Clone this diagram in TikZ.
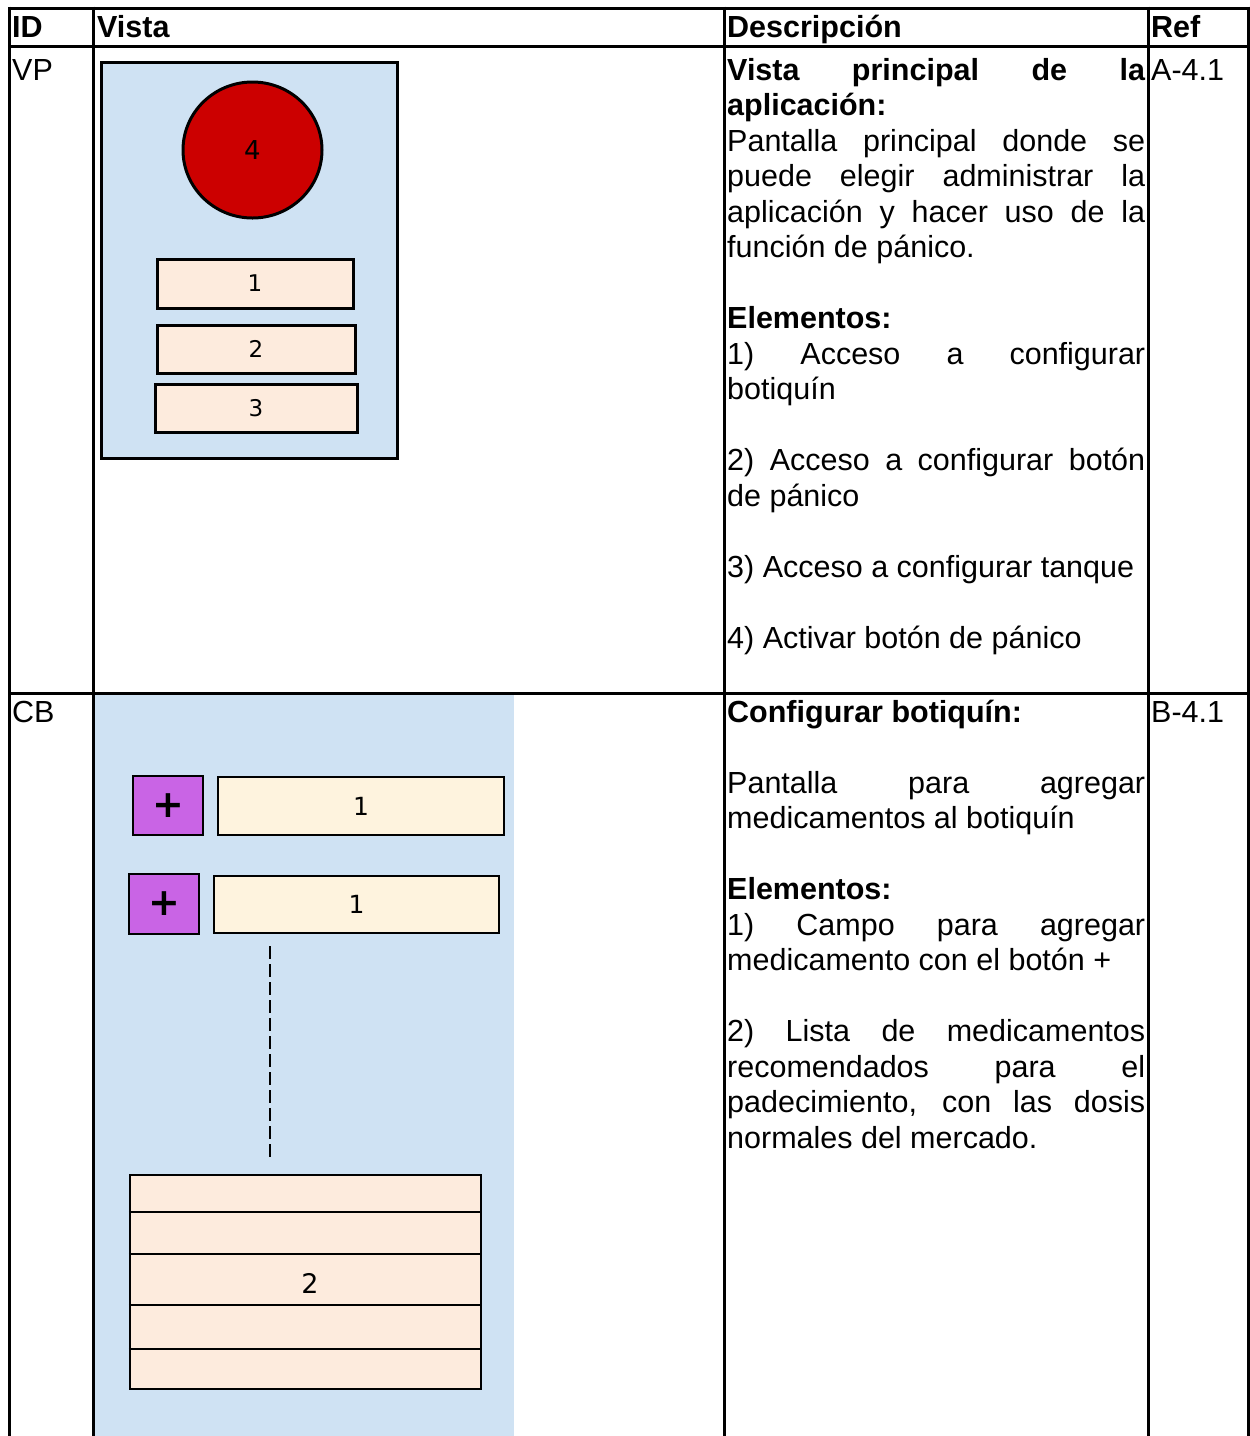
\documentclass[tikz,border=0pt]{standalone}
\usepackage{fontspec}
\setmainfont{Liberation Sans}
\newfontfamily\vfont{DejaVu Sans}
\usetikzlibrary{shapes.geometric}
\definecolor{scrblue}{HTML}{CFE2F3}
\definecolor{panicred}{HTML}{CC0000}
\definecolor{peach}{HTML}{FDEBDD}
\definecolor{cream}{HTML}{FEF3DE}
\definecolor{plusviolet}{HTML}{C964E5}
\newcommand{\jl}[1]{\makebox[418pt][s]{#1}}
\newcommand{\resetsp}{\spaceskip=0pt\xspaceskip=0pt\relax}
\begin{document}
\begin{tikzpicture}[x=1pt,y=-1pt,
  tline/.style={line width=3pt},
  body/.style={font=\fontsize{30.5}{35.5}\selectfont},
  celltxt/.style={body, anchor=base west, inner sep=0pt},
  desc/.style={body, anchor=north west, inner sep=0pt, text width=418pt, align=left},
  widget/.style={draw=black, line width=3pt, inner sep=0pt, font=\vfont\fontsize{23}{27}\selectfont},
  field/.style={widget, rectangle, fill=peach},
  cfield/.style={widget, rectangle, fill=cream, line width=2.5pt},
  plusbtn/.style={widget, rectangle, fill=plusviolet, line width=2.5pt, font=\vfont\bfseries\fontsize{38}{40}\selectfont},
  listbox/.style={draw=black, line width=2.2pt, fill=peach, inner sep=0pt, font=\vfont\fontsize{26}{30}\selectfont}
]
\useasboundingbox (0,0) rectangle (1250,1436);
\fill[white] (0,0) rectangle (1250,1436);

% ---------- VP screen mock-up ----------
\node[draw=black, line width=3pt, fill=scrblue, minimum width=296pt, minimum height=396pt, inner sep=0pt] (vpscreen) at (249,260) {};
\node[widget, ellipse, fill=panicred, minimum width=139pt, minimum height=136pt, font=\vfont\fontsize{26}{28}\selectfont] (panic) at (252.5,150) {4};
\node[field, minimum width=196pt, minimum height=49pt] (vpb1) at (255,283.5) {1};
\node[field, minimum width=198pt, minimum height=48pt] (vpb2) at (256,349) {2};
\node[field, minimum width=202pt, minimum height=48pt] (vpb3) at (256,408) {3};

% ---------- CB screen mock-up ----------
\fill[scrblue] (95,695) rectangle (514,1436);
\node[plusbtn, minimum width=70pt, minimum height=59pt] (plus1) at (168,805.5) {+};
\node[cfield, minimum width=286pt, minimum height=58pt, font=\vfont\fontsize{25}{28}\selectfont] (fld1) at (361,806) {1};
\node[plusbtn, minimum width=70pt, minimum height=60pt] (plus2) at (164,904) {+};
\node[cfield, minimum width=285pt, minimum height=57pt, font=\vfont\fontsize{25}{28}\selectfont] (fld2) at (356.5,904.5) {1};
\coordinate (dtop) at (270,946);
\coordinate (dbot) at (270,1160);
\draw[line width=2pt, dash pattern=on 13pt off 5pt] (dtop) -- (dbot);
\node[listbox, minimum width=351pt, minimum height=214pt] (medlist) at (305.5,1282) {};
\foreach \yy in {1212,1254,1305,1349}
  \draw[line width=2.2pt] (medlist.west |- 0,\yy) -- (medlist.east |- 0,\yy);
\node[inner sep=0pt, font=\vfont\fontsize{27}{30}\selectfont] (medlbl) at (310,1283) {2};

% ---------- table rules ----------
\draw[tline] (9,8) -- (1248,8);
\draw[tline] (9,46) -- (1248,46);
\draw[tline] (9,693) -- (1248,693);
\foreach \xx in {9,93,724,1148,1248}
  \draw[tline] (\xx,6.5) -- (\xx,1436);

% ---------- header ----------
\node[celltxt, font=\fontsize{30.5}{35.5}\selectfont\bfseries] (hid) at (12,37) {ID};
\node[celltxt, font=\fontsize{30.5}{35.5}\selectfont\bfseries] (hvista) at (97,37) {Vista};
\node[celltxt, font=\fontsize{30.5}{35.5}\selectfont\bfseries] (hdesc) at (727,37) {Descripción};
\node[celltxt, font=\fontsize{30.5}{35.5}\selectfont\bfseries] (href) at (1151,37) {Ref};

% ---------- row VP ----------
\node[celltxt] (idvp) at (12,80) {VP};
\node[celltxt] (refvp) at (1151,80) {A-4.1};
\node[desc] (descvp) at (727,53) {\resetsp\rule{0pt}{27pt}\jl{\textbf{Vista principal de la}}\\
\textbf{aplicación:}\\
\jl{Pantalla principal donde se}\\
\jl{puede elegir administrar la}\\
\jl{aplicación y hacer uso de la}\\
función de pánico.\\
\mbox{}\\
\textbf{Elementos:}\\
\jl{1) Acceso a configurar}\\
botiquín\\
\mbox{}\\
\jl{2) Acceso a configurar botón}\\
de pánico\\
\mbox{}\\
3) Acceso a configurar tanque\\
\mbox{}\\
4) Activar botón de pánico};

% ---------- row CB ----------
\node[celltxt] (idcb) at (12,722) {CB};
\node[celltxt] (refcb) at (1151,722) {B-4.1};
\node[desc] (desccb) at (727,695) {\resetsp\rule{0pt}{27pt}\textbf{Configurar botiquín:}\\
\mbox{}\\
\jl{Pantalla para agregar}\\
medicamentos al botiquín\\
\mbox{}\\
\textbf{Elementos:}\\
\jl{1) Campo para agregar}\\
medicamento con el botón +\\
\mbox{}\\
\jl{2) Lista de medicamentos}\\
\jl{recomendados para el}\\
\jl{padecimiento, con las dosis}\\
normales del mercado.};
\end{tikzpicture}
\end{document}
